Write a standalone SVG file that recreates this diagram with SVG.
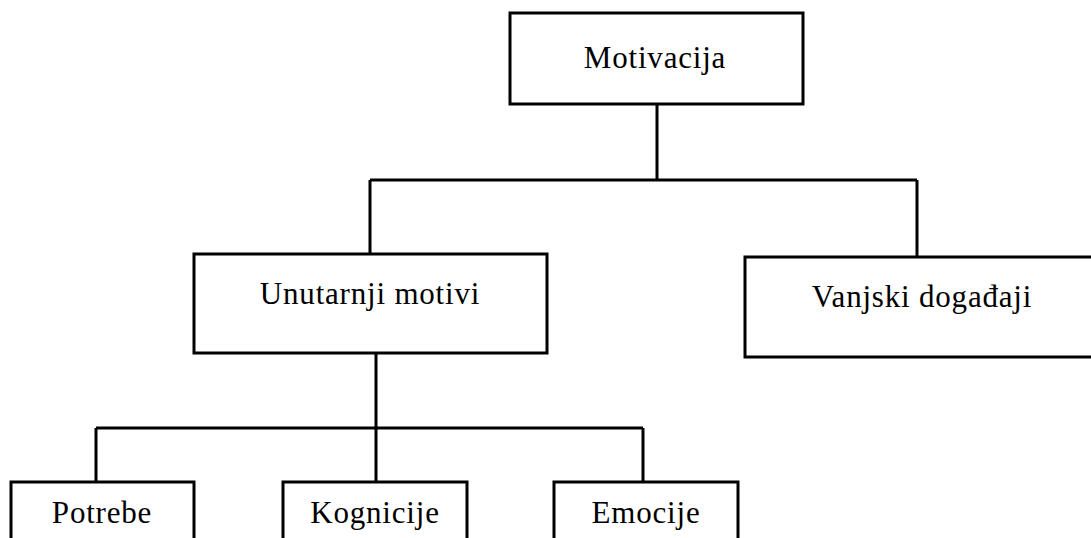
<svg xmlns="http://www.w3.org/2000/svg" width="1091" height="538" viewBox="0 0 1091 538">
<style>
.box{fill:#fff;stroke:#000;stroke-width:3}
.lbl{font-family:"Liberation Serif","Times New Roman",serif;font-size:31px;letter-spacing:0.8px;fill:#000;text-anchor:middle}
.conn{fill:none;stroke:#000;stroke-width:3}
</style>
<rect width="1091" height="538" fill="#fff"/>
<g id="connectors">
<path class="conn" d="M657 104V180M370 180H917M370 180V254M917 180V257"/>
<path class="conn" d="M376 353V428M96 428H643M96 428V482M376 428V482M643 428V482"/>
</g>
<g id="motivacija"><rect class="box" x="510" y="13" width="293" height="91"/><text class="lbl" x="655" y="68">Motivacija</text></g>
<g id="unutarnji"><rect class="box" x="194" y="254" width="353" height="99"/><text class="lbl" x="370" y="304">Unutarnji motivi</text></g>
<g id="vanjski"><rect class="box" x="745" y="257" width="360" height="100"/><text class="lbl" x="922" y="307">Vanjski događaji</text></g>
<g id="potrebe"><rect class="box" x="11" y="482" width="183" height="70"/><text class="lbl" x="102" y="523">Potrebe</text></g>
<g id="kognicije"><rect class="box" x="283" y="482" width="184" height="70"/><text class="lbl" x="375" y="523">Kognicije</text></g>
<g id="emocije"><rect class="box" x="554" y="482" width="184" height="70"/><text class="lbl" x="646" y="523">Emocije</text></g>
</svg>
